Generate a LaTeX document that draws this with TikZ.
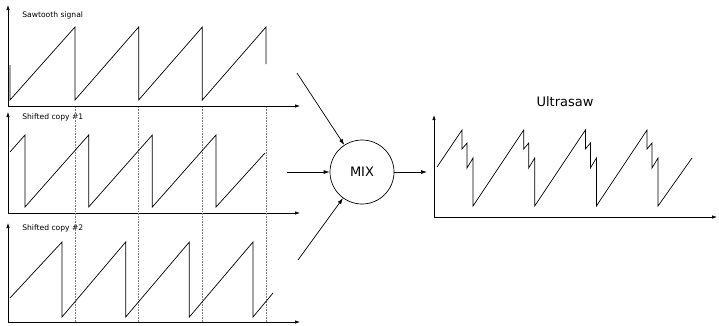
\documentclass[tikz,border=0pt]{standalone}
\usepackage{fontspec}
\setmainfont{DejaVu Sans}
\usetikzlibrary{arrows.meta}
\begin{document}
\begin{tikzpicture}
  [x=1pt,y=-1pt,line width=0.7pt,
   axis/.style={-{Latex[length=5pt,width=3.5pt]}},
   wave/.style={line join=miter},
   marker/.style={densely dotted,gray,line width=0.6pt},
   lab/.style={anchor=west,inner sep=0pt,font=\fontsize{7.6}{8}\selectfont},
   feed/.style={-{Latex[length=6pt,width=4pt]}}]
  \useasboundingbox (0,0) rectangle (719,325);

  % Achsen der drei Eingangssignale
  \foreach \base/\top in {106/5, 213/112, 322/223} {
    \draw[axis] (8,\base) -- (8,\top);
    \draw[axis] (8,\base) -- (300,\base);
  }

  % Beschriftungen
  \node[lab] (lab1) at (22,15) {Sawtooth signal};
  \node[lab] (lab2) at (22,117) {Shifted copy \#1};
  \node[lab] (lab3) at (22,228) {Shifted copy \#2};

  % Gepunktete Markierungen
  \foreach \x in {75,138.7,202.3,266}
    \draw[marker] (\x,107) -- (\x,322);

  % Saegezahn
  \draw[wave] (10,65) -- (10,100)
    \foreach \k in {0,1,2} { -- ({75+63.67*\k},27) -- ({75+63.67*\k},100) }
    -- (266,27) -- (266,64);

  % Kopie 1
  \draw[wave] (10,152)
    \foreach \k in {0,1,2,3} { -- ({25+63.67*\k},135) -- ({25+63.67*\k},207) }
    -- (265,153);

  % Kopie 2
  \draw[wave] (10,298)
    \foreach \k in {0,1,2,3} { -- ({62+63.67*\k},242) -- ({62+63.67*\k},317) }
    -- (273,293);

  % Mischer
  \node[circle,draw,minimum size=64pt,inner sep=0pt,font=\fontsize{13}{14}\selectfont]
    (mix) at (362,172) {MIX};
  \coordinate (src1) at (297,73);
  \coordinate (src2) at (287,172);
  \coordinate (src3) at (298,260);
  \coordinate (ultra) at (427,172);
  \foreach \from in {src1,src2,src3}
    \draw[feed] (\from) -- (mix);
  \draw[feed] (mix) -- (ultra);

  % Ergebnis
  \node[inner sep=0pt,font=\fontsize{13}{14}\selectfont] (title) at (565,102) {Ultrasaw};
  \draw[axis] (434,217) -- (434,115);
  \draw[axis] (434,217) -- (717,217);
  \draw[wave] (437,167)
    \foreach \k in {0,1,2} {
      -- ({462+61.7*\k},130) -- ({462+61.7*\k},149)
      -- ({467+61.7*\k},143) -- ({467+61.7*\k},168)
      -- ({473+61.7*\k},158) -- ({473+61.7*\k},206) }
    -- (647,130) -- (647,149) -- (652,143) -- (652,168)
    -- (658,158) -- (658,206) -- (692,158);

\end{tikzpicture}
\end{document}
